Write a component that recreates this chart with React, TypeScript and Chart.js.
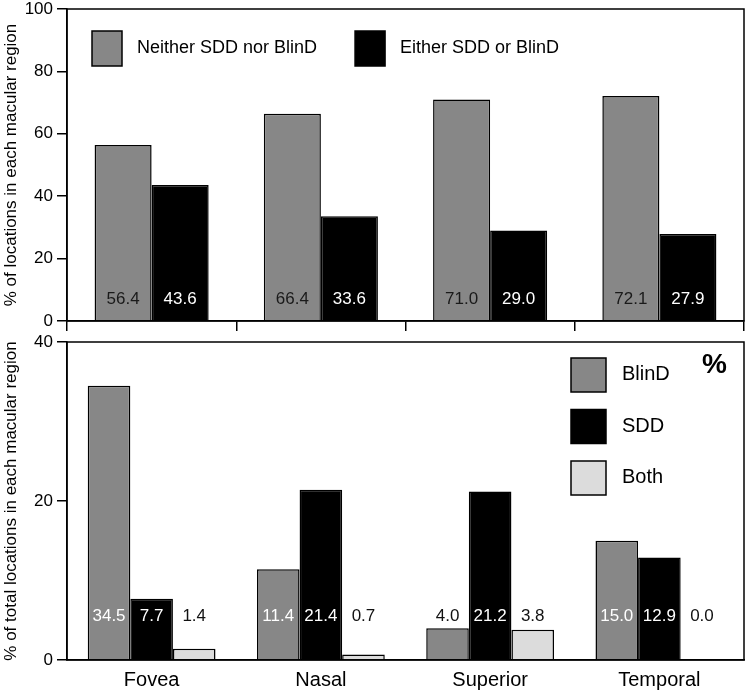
import React, { useEffect, useRef } from 'react';
import { Chart, registerables } from 'chart.js';

Chart.register(...registerables);

const categories = ['Fovea', 'Nasal', 'Superior', 'Temporal'];
const neitherValues = [56.4, 66.4, 71.0, 72.1];
const eitherValues = [43.6, 33.6, 29.0, 27.9];
const blindValues = [34.5, 11.4, 4.0, 15.0];
const sddValues = [7.7, 21.4, 21.2, 12.9];
const bothValues = [1.4, 0.7, 3.8, 0.0];

const FONT = '"Liberation Sans", Arial, Helvetica, sans-serif';
const GRAY = '#878787';
const BLACK = '#000000';
const LIGHT = '#dcdcdc';

const framePlugin = {
  id: 'frame',
  afterDraw(chart: any) {
    const { ctx, chartArea: a } = chart;
    ctx.save();
    ctx.strokeStyle = '#000';
    ctx.lineWidth = 1.5;
    ctx.strokeRect(a.left, a.top, a.right - a.left, a.bottom - a.top);
    ctx.restore();
  },
};

function valueLabelPlugin(labelAt: number, colorFor: (di: number, v: number) => string) {
  return {
    id: 'valueLabels',
    afterDatasetsDraw(chart: any) {
      const { ctx } = chart;
      const y = chart.scales.y.getPixelForValue(labelAt);
      ctx.save();
      ctx.font = `17px ${FONT}`;
      ctx.textAlign = 'center';
      ctx.textBaseline = 'middle';
      chart.data.datasets.forEach((ds: any, di: number) => {
        const meta = chart.getDatasetMeta(di);
        meta.data.forEach((el: any, i: number) => {
          const v = ds.data[i] as number;
          ctx.fillStyle = colorFor(di, v);
          ctx.fillText(v.toFixed(1), el.x, y);
        });
      });
      ctx.restore();
    },
  };
}

const topLegendPlugin = {
  id: 'topLegend',
  afterDraw(chart: any) {
    const { ctx, chartArea: a } = chart;
    ctx.save();
    ctx.font = `18px ${FONT}`;
    let x = a.left + 25;
    const top = a.top + 22;
    chart.data.datasets.forEach((ds: any) => {
      ctx.fillStyle = ds.backgroundColor;
      ctx.fillRect(x, top, 30, 35);
      ctx.strokeStyle = '#000';
      ctx.lineWidth = 1.5;
      ctx.strokeRect(x, top, 30, 35);
      ctx.fillStyle = '#000';
      ctx.textAlign = 'left';
      ctx.textBaseline = 'alphabetic';
      ctx.fillText(ds.label, x + 45, top + 22);
      x += 45 + ctx.measureText(ds.label).width + 38;
    });
    ctx.restore();
  },
};

const bottomLegendPlugin = {
  id: 'bottomLegend',
  afterDraw(chart: any) {
    const { ctx, chartArea: a } = chart;
    ctx.save();
    ctx.font = `20px ${FONT}`;
    const x = a.right - 173;
    chart.data.datasets.forEach((ds: any, i: number) => {
      const top = a.top + 16 + i * 51.5;
      ctx.fillStyle = ds.backgroundColor;
      ctx.fillRect(x, top, 35, 34);
      ctx.strokeStyle = '#000';
      ctx.lineWidth = 1.5;
      ctx.strokeRect(x, top, 35, 34);
      ctx.fillStyle = '#000';
      ctx.textAlign = 'left';
      ctx.textBaseline = 'alphabetic';
      ctx.fillText(ds.label, x + 51, top + 22);
    });
    ctx.font = `bold 28px ${FONT}`;
    ctx.fillText('%', a.right - 42, a.top + 31);
    ctx.restore();
  },
};

function yAxis(max: number, title: string) {
  return {
    min: 0,
    max,
    ticks: { stepSize: 20, color: '#000', font: { size: 17, family: FONT }, padding: 4 },
    grid: { display: true, drawOnChartArea: false, drawTicks: true, tickLength: 10, color: '#000', lineWidth: 1.5 },
    border: { display: true, color: '#000', width: 1.5 },
    title: { display: true, text: title, color: '#000', font: { size: 17, family: FONT }, padding: { top: 1, bottom: 0 } },
    afterFit(s: any) {
      s.width = 67;
      s.paddingTop = 0;
      s.paddingBottom = 0;
    },
  };
}

export default function App() {
  const topRef = useRef<HTMLCanvasElement>(null);
  const botRef = useRef<HTMLCanvasElement>(null);

  useEffect(() => {
    const top = new Chart(topRef.current as HTMLCanvasElement, {
      type: 'bar',
      data: {
        labels: categories,
        datasets: [
          { label: 'Neither SDD nor BlinD', data: neitherValues, backgroundColor: GRAY, borderColor: '#000', borderWidth: 1.5, categoryPercentage: 0.674, barPercentage: 1 },
          { label: 'Either SDD or BlinD', data: eitherValues, backgroundColor: BLACK, borderColor: '#000', borderWidth: 1.5, categoryPercentage: 0.674, barPercentage: 1 },
        ],
      },
      options: {
        responsive: false,
        animation: false,
        layout: { padding: { top: 9, right: 6, left: 0, bottom: 0 } },
        plugins: { legend: { display: false }, tooltip: { enabled: false } },
        scales: {
          x: {
            offset: true,
            ticks: { display: false },
            grid: { display: true, offset: true, drawOnChartArea: false, drawTicks: true, tickLength: 10, color: '#000', lineWidth: 1.5 },
            border: { display: true, color: '#000', width: 1.5 },
            afterFit(s: any) {
              s.height = 13;
              s.paddingLeft = 0;
              s.paddingRight = 0;
            },
          },
          y: yAxis(100, '% of locations in each macular region'),
        },
      } as any,
      plugins: [
        framePlugin,
        topLegendPlugin,
        valueLabelPlugin(7.05, (di) => (di === 0 ? '#1a1a1a' : '#ffffff')),
      ],
    });

    const bottom = new Chart(botRef.current as HTMLCanvasElement, {
      type: 'bar',
      data: {
        labels: categories,
        datasets: [
          { label: 'BlinD', data: blindValues, backgroundColor: GRAY, borderColor: '#000', borderWidth: 1.5, categoryPercentage: 0.755, barPercentage: 1 },
          { label: 'SDD', data: sddValues, backgroundColor: BLACK, borderColor: '#000', borderWidth: 1.5, categoryPercentage: 0.755, barPercentage: 1 },
          { label: 'Both', data: bothValues, backgroundColor: LIGHT, borderColor: '#000', borderWidth: 1.5, categoryPercentage: 0.755, barPercentage: 1 },
        ],
      },
      options: {
        responsive: false,
        animation: false,
        layout: { padding: { top: 8, right: 6, left: 0, bottom: 0 } },
        plugins: { legend: { display: false }, tooltip: { enabled: false } },
        scales: {
          x: {
            offset: true,
            ticks: { color: '#000', font: { size: 20, family: FONT }, padding: 0, maxRotation: 0 },
            grid: { display: false },
            border: { display: true, color: '#000', width: 1.5 },
            afterFit(s: any) {
              s.height = 31;
              s.paddingLeft = 0;
              s.paddingRight = 0;
            },
          },
          y: yAxis(40, '% of total locations in each macular region'),
        },
      } as any,
      plugins: [
        framePlugin,
        bottomLegendPlugin,
        valueLabelPlugin(5.47, (di, v) => (di < 2 && v > 7 ? '#ffffff' : '#111111')),
      ],
    });

    return () => {
      top.destroy();
      bottom.destroy();
    };
  }, []);

  return (
    <div style={{ position: 'absolute', left: 0, top: 0, width: 750, height: 691, background: '#fff' }}>
      <canvas ref={topRef} width={750} height={334} style={{ position: 'absolute', left: 0, top: 0, display: 'block' }} />
      <canvas ref={botRef} width={750} height={357} style={{ position: 'absolute', left: 0, top: 334, display: 'block' }} />
    </div>
  );
}
